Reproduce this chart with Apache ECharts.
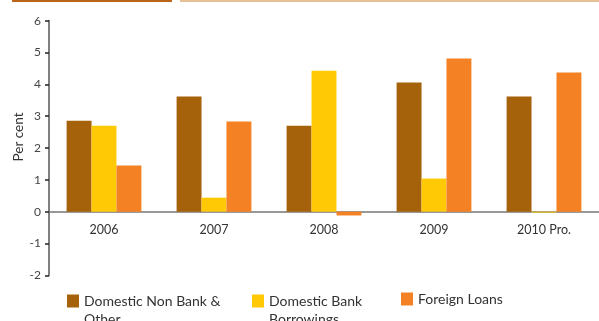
<!DOCTYPE html>
<html>
<head>
<meta charset="utf-8">
<script src="https://cdn.jsdelivr.net/npm/echarts@6/dist/echarts.min.js"></script>
<style>
  html, body { margin: 0; padding: 0; background: #fff; }
  #chart { width: 599px; height: 321px; }
</style>
</head>
<body>
<div id="chart"></div>
<script>
var years = ['2006', '2007', '2008', '2009', '2010 Pro.'];
var nonBank = [2.86, 3.62, 2.70, 4.06, 3.62];
var bankBorrow = [2.70, 0.44, 4.43, 1.04, -0.03];
var foreignLoans = [1.45, 2.83, -0.12, 4.81, 4.37];
var yTicks = { min: -2, max: 6, step: 1 };

var mychart = echarts.init(document.querySelector('#chart'));

var font = 'Lato, "DejaVu Sans", sans-serif';
var gridTop = 20.7, gridBottom = 45.7;
var plotH = 321 - gridTop - gridBottom;
// x axis sits on the zero line
var zeroOffset = -plotH * (0 - yTicks.min) / (yTicks.max - yTicks.min);

// square at the top of a taller box, so it lines up with the first text line
var topIcon = 'path://M0,0h12v13h-12z M11.95,30.95h0.05v0.05h-0.05z';

option = {
    animation: false,
    color: ['#a5620a', '#ffc905', '#f48224'],
    textStyle: { fontFamily: font },
    graphic: [
        { type: 'rect', shape: { x: 12, y: 0, width: 160, height: 2 }, style: { fill: '#b8651a' } },
        { type: 'rect', shape: { x: 180, y: 0, width: 419, height: 2 }, style: { fill: '#e6c193' } }
    ],
    grid: {
        left: 49,
        right: -2,
        top: gridTop,
        bottom: gridBottom
    },
    legend: [
        {
            left: 62, top: 287,
            itemWidth: 12, itemHeight: 31,
            icon: topIcon,
            data: ['Domestic Non Bank & Other'],
            formatter: function () { return 'Domestic Non Bank &\nOther'; },
            textStyle: { fontSize: 14, color: '#333', lineHeight: 18, fontFamily: font }
        },
        {
            left: 247, top: 287,
            itemWidth: 12, itemHeight: 31,
            icon: topIcon,
            data: ['Domestic Bank Borrowings'],
            formatter: function () { return 'Domestic Bank\nBorrowings'; },
            textStyle: { fontSize: 14, color: '#333', lineHeight: 18, fontFamily: font }
        },
        {
            left: 396, top: 287,
            itemWidth: 12, itemHeight: 13,
            icon: 'rect',
            data: ['Foreign Loans'],
            textStyle: { fontSize: 14, color: '#333', fontFamily: font }
        }
    ],
    xAxis: {
        type: 'category',
        data: years,
        position: 'bottom',
        offset: zeroOffset,
        axisTick: { show: false },
        axisLine: { onZero: false, lineStyle: { color: '#777', width: 1.5 } },
        axisLabel: { color: '#333', fontSize: 12.5, margin: 12, fontFamily: font }
    },
    yAxis: {
        type: 'value',
        min: yTicks.min,
        max: yTicks.max,
        interval: yTicks.step,
        name: 'Per cent',
        nameLocation: 'middle',
        nameGap: 23,
        nameMoveOverlap: false,
        nameTextStyle: { color: '#333', fontSize: 13.5, fontFamily: font, padding: [0, 0, 0, 22] },
        splitLine: { show: false },
        axisLine: { show: true, lineStyle: { color: '#808080', width: 2 } },
        axisTick: { show: true, length: 4, lineStyle: { color: '#222', width: 1.5 } },
        axisLabel: { color: '#444', fontSize: 12, margin: 8, fontFamily: font }
    },
    series: [
        { name: 'Domestic Non Bank & Other', type: 'bar', data: nonBank, barGap: '0%', barCategoryGap: '32%' },
        { name: 'Domestic Bank Borrowings', type: 'bar', data: bankBorrow, barGap: '0%', barCategoryGap: '32%' },
        { name: 'Foreign Loans', type: 'bar', data: foreignLoans, barGap: '0%', barCategoryGap: '32%' }
    ]
};

mychart.setOption(option);
</script>
</body>
</html>
